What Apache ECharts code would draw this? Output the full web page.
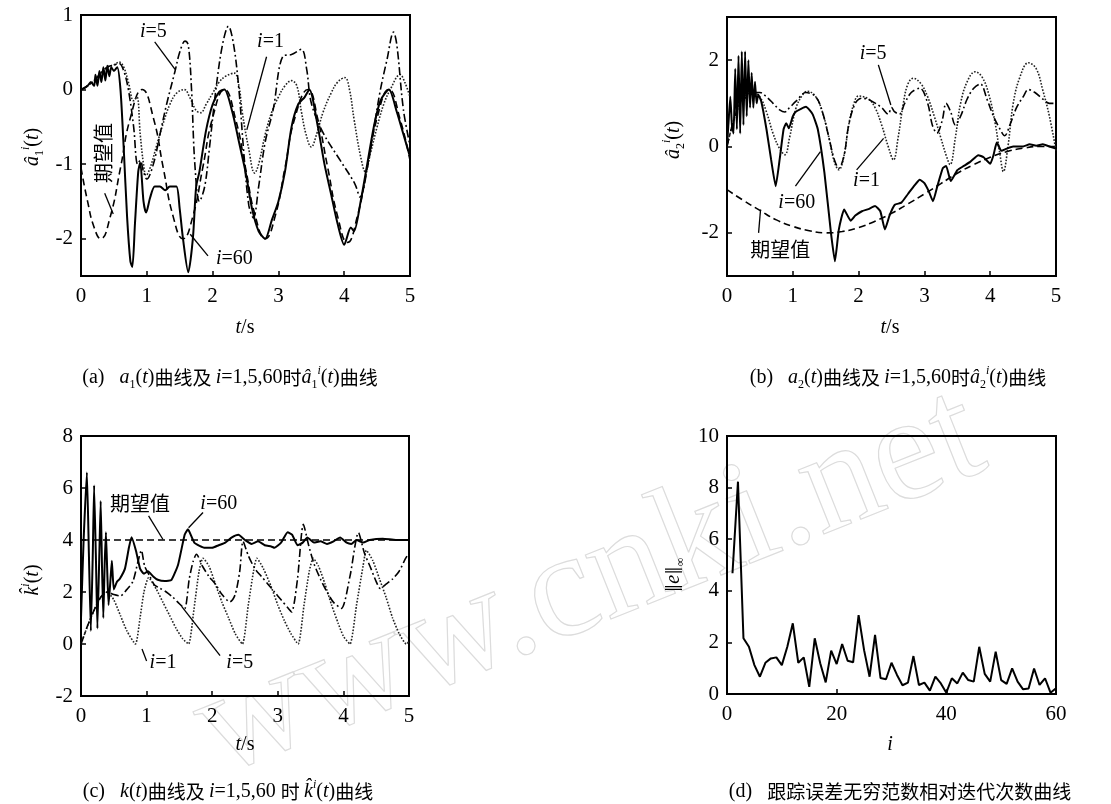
<!DOCTYPE html>
<html><head><meta charset="utf-8">
<script src="https://cdn.jsdelivr.net/npm/echarts@6/dist/echarts.min.js"></script>
<style>html,body{margin:0;padding:0;background:#fff}#c{width:1111px;height:804px}</style>
</head><body><div id="c"></div>
<script>
// ---------- panel (a): a1(t) ----------
const a1Desired = [[0,-1.05],[0.1,-1.5],[0.2,-1.85],[0.3,-2.0],[0.44,-1.72],[0.6,-1.05],[0.75,-0.38],[0.93,0],[1.1,-0.38],[1.25,-1.05],[1.4,-1.7],[1.55,-2.0],[1.7,-1.7],[1.85,-1.05],[2.0,-0.38],[2.18,0],[2.35,-0.4],[2.5,-1.05],[2.65,-1.7],[2.8,-2.0],[2.95,-1.7],[3.1,-1.05],[3.25,-0.38],[3.45,0],[3.6,-0.4],[3.75,-1.05],[3.9,-1.7],[4.05,-2.05],[4.2,-1.7],[4.35,-1.05],[4.5,-0.38],[4.68,0],[4.85,-0.4],[5.0,-0.95]];
const a1It60 = [[0,0],[0.05,0.02],[0.1,0.05],[0.15,0.1],[0.2,0.05],[0.22,0.2],[0.25,0.05],[0.28,0.25],[0.31,0.1],[0.34,0.3],[0.37,0.12],[0.4,0.32],[0.43,0.18],[0.46,0.3],[0.5,0.25],[0.55,0.3],[0.6,0.0],[0.65,-0.8],[0.7,-1.7],[0.75,-2.3],[0.78,-2.38],[0.82,-1.8],[0.87,-1.1],[0.9,-0.98],[0.95,-1.5],[0.99,-1.65],[1.05,-1.45],[1.12,-1.3],[1.2,-1.3],[1.28,-1.35],[1.35,-1.3],[1.45,-1.3],[1.5,-1.6],[1.55,-2.0],[1.63,-2.45],[1.7,-2.0],[1.75,-1.3],[1.8,-1.1],[1.9,-0.55],[2.0,-0.2],[2.1,-0.03],[2.18,0],[2.3,-0.3],[2.4,-0.7],[2.5,-1.1],[2.6,-1.6],[2.7,-1.9],[2.8,-2.0],[2.9,-1.75],[3.0,-1.5],[3.1,-1.1],[3.2,-0.5],[3.3,-0.2],[3.4,-0.1],[3.47,0],[3.6,-0.5],[3.7,-1.0],[3.8,-1.4],[3.9,-1.8],[4.0,-2.08],[4.1,-1.85],[4.15,-1.9],[4.25,-1.5],[4.35,-1.0],[4.45,-0.5],[4.55,-0.15],[4.68,0],[4.8,-0.3],[4.9,-0.6],[5.0,-0.9]];
const a1It1 = [[0,0],[0.1,0.05],[0.2,0.12],[0.3,0.22],[0.4,0.3],[0.5,0.33],[0.58,0.37],[0.65,0.3],[0.72,0.1],[0.8,-0.15],[0.85,-0.1],[0.9,-0.6],[0.95,-1.0],[0.99,-1.15],[1.05,-1.05],[1.15,-0.75],[1.25,-0.45],[1.35,-0.2],[1.45,-0.05],[1.57,0],[1.65,-0.1],[1.75,-0.28],[1.82,-0.31],[1.9,-0.2],[2.0,-0.05],[2.1,0.1],[2.2,0.18],[2.33,0.22],[2.4,0.05],[2.45,-0.3],[2.55,-0.8],[2.64,-1.12],[2.7,-1.0],[2.8,-0.6],[2.9,-0.3],[3.0,-0.1],[3.1,0.05],[3.2,0.12],[3.28,0.05],[3.35,-0.3],[3.42,-0.6],[3.5,-0.77],[3.58,-0.6],[3.68,-0.3],[3.8,-0.05],[3.9,0.1],[4.01,0.16],[4.08,0.0],[4.15,-0.4],[4.25,-0.9],[4.32,-1.1],[4.4,-0.85],[4.5,-0.5],[4.6,-0.2],[4.7,0.0],[4.85,0.2],[4.92,0.1],[5.0,-0.1]];
const a1It5 = [[0,0],[0.1,0.05],[0.2,0.12],[0.3,0.22],[0.4,0.3],[0.5,0.33],[0.58,0.35],[0.65,0.25],[0.72,0.0],[0.8,-0.5],[0.86,-1.0],[0.9,-0.95],[0.95,-1.1],[1.0,-1.2],[1.1,-1.0],[1.2,-0.6],[1.3,-0.2],[1.43,0.25],[1.5,0.5],[1.58,0.65],[1.63,0.6],[1.68,0.0],[1.73,-1.0],[1.8,-1.5],[1.88,-1.3],[1.95,-0.8],[2.05,0.0],[2.15,0.6],[2.24,0.85],[2.32,0.6],[2.4,0.0],[2.47,-0.8],[2.55,-1.55],[2.62,-1.72],[2.7,-1.3],[2.8,-0.7],[2.92,-0.27],[3.07,0.45],[3.2,0.47],[3.35,0.54],[3.43,0.27],[3.5,-0.18],[3.68,-0.58],[3.94,-0.95],[4.16,-1.26],[4.24,-1.44],[4.37,-0.95],[4.54,-0.05],[4.65,0.4],[4.75,0.77],[4.8,0.6],[4.9,-0.27],[5.0,-0.75]];

// ---------- panel (b): a2(t) ----------
const a2Desired = [[0,-1.0],[0.25,-1.25],[0.5,-1.48],[0.75,-1.7],[1.0,-1.85],[1.25,-1.95],[1.5,-2.0],[1.75,-1.97],[2.0,-1.88],[2.25,-1.73],[2.5,-1.55],[2.75,-1.33],[3.0,-1.1],[3.25,-0.86],[3.5,-0.62],[3.75,-0.42],[4.0,-0.25],[4.25,-0.12],[4.5,-0.04],[4.75,0.0],[5.0,0.0]];
const a2It60 = [[0,0],[0.025,0.6],[0.05,1.15],[0.075,0.5],[0.1,0.3],[0.125,1.8],[0.15,0.4],[0.175,2.1],[0.2,0.3],[0.225,2.2],[0.25,0.5],[0.275,2.2],[0.3,0.7],[0.325,2.0],[0.35,0.9],[0.375,1.7],[0.4,0.9],[0.425,1.5],[0.45,1.0],[0.475,1.2],[0.52,1.05],[0.6,0.4],[0.67,-0.3],[0.74,-0.92],[0.8,-0.3],[0.86,0.4],[0.9,0.54],[0.94,0.42],[1.0,0.7],[1.05,0.81],[1.2,0.92],[1.3,0.75],[1.38,0.4],[1.48,-0.6],[1.58,-2.0],[1.64,-2.66],[1.7,-1.92],[1.78,-1.46],[1.88,-1.72],[1.95,-1.6],[2.05,-1.5],[2.15,-1.45],[2.25,-1.38],[2.33,-1.5],[2.4,-1.92],[2.47,-1.6],[2.55,-1.35],[2.65,-1.3],[2.75,-1.1],[2.85,-0.9],[2.93,-0.77],[3.0,-0.85],[3.07,-1.05],[3.13,-1.27],[3.2,-0.9],[3.28,-0.5],[3.33,-0.45],[3.4,-0.8],[3.5,-0.55],[3.6,-0.45],[3.7,-0.35],[3.82,-0.2],[3.9,-0.25],[4.0,-0.4],[4.05,-0.2],[4.1,0.09],[4.17,-0.1],[4.25,-0.05],[4.35,0.0],[4.5,0.0],[4.6,0.05],[4.7,0.02],[4.8,0.05],[4.9,0.0],[5.0,-0.05]];
const a2It1 = [[0,0],[0.1,0.6],[0.2,1.0],[0.3,1.2],[0.4,1.25],[0.5,1.15],[0.6,0.8],[0.7,0.3],[0.8,-0.05],[0.88,-0.19],[0.95,0.2],[1.05,0.9],[1.15,1.2],[1.22,1.28],[1.35,1.15],[1.45,0.8],[1.55,0.2],[1.63,-0.35],[1.7,-0.54],[1.78,-0.2],[1.85,0.5],[1.93,1.0],[2.0,1.17],[2.15,1.1],[2.25,0.9],[2.35,0.5],[2.45,0.0],[2.53,-0.31],[2.6,0.2],[2.68,1.0],[2.75,1.45],[2.83,1.58],[2.95,1.45],[3.05,1.15],[3.15,0.7],[3.25,0.2],[3.33,-0.2],[3.39,-0.42],[3.47,0.2],[3.55,1.0],[3.65,1.5],[3.77,1.73],[3.88,1.6],[3.98,1.2],[4.08,0.5],[4.15,-0.2],[4.2,-0.58],[4.27,0.0],[4.35,1.0],[4.45,1.6],[4.58,1.94],[4.7,1.8],[4.8,1.3],[4.9,0.7],[5.0,-0.1]];
const a2It5 = [[0,0],[0.1,0.6],[0.2,1.0],[0.3,1.15],[0.4,1.25],[0.5,1.25],[0.6,1.15],[0.7,1.0],[0.8,0.85],[0.88,0.8],[0.95,0.9],[1.05,1.05],[1.2,1.25],[1.35,1.15],[1.45,0.8],[1.55,0.2],[1.63,-0.3],[1.7,-0.5],[1.78,-0.2],[1.85,0.5],[1.95,1.0],[2.05,1.12],[2.2,1.05],[2.35,0.9],[2.45,0.75],[2.5,0.9],[2.55,0.8],[2.62,0.75],[2.7,1.0],[2.8,1.25],[2.93,1.35],[3.05,1.0],[3.12,0.5],[3.19,0.31],[3.27,0.6],[3.33,1.0],[3.4,0.8],[3.47,0.5],[3.55,0.7],[3.65,1.1],[3.75,1.35],[3.85,1.45],[3.95,1.1],[4.05,0.7],[4.15,0.4],[4.22,0.25],[4.3,0.5],[4.4,0.9],[4.5,1.15],[4.58,1.32],[4.68,1.25],[4.8,1.1],[4.9,1.0],[5.0,1.0]];

// ---------- panel (c): k(t) ----------
const kDesired = [[0,4],[5,4]];
const kIt60 = [[0,1.0],[0.04,4.0],[0.09,6.6],[0.12,3.5],[0.15,0.5],[0.18,3.5],[0.2,6.1],[0.23,3.0],[0.25,0.6],[0.28,3.5],[0.3,5.5],[0.32,3.0],[0.34,1.0],[0.36,3.0],[0.38,4.3],[0.4,2.8],[0.42,1.5],[0.45,2.5],[0.47,3.2],[0.5,2.1],[0.55,2.4],[0.59,2.5],[0.67,2.9],[0.73,3.7],[0.77,4.11],[0.84,3.57],[0.9,2.9],[0.96,2.7],[1.02,2.8],[1.1,2.6],[1.17,2.47],[1.28,2.42],[1.38,2.47],[1.48,3.05],[1.58,4.2],[1.63,4.41],[1.73,3.89],[1.89,3.7],[2.0,3.7],[2.1,3.8],[2.2,3.9],[2.3,4.1],[2.4,4.2],[2.5,4.0],[2.6,3.85],[2.7,3.95],[2.8,3.8],[2.9,3.75],[2.95,3.7],[3.05,3.9],[3.15,4.3],[3.22,4.2],[3.3,3.8],[3.38,3.9],[3.45,4.1],[3.55,3.9],[3.65,3.95],[3.75,3.85],[3.85,3.95],[3.95,4.1],[4.05,3.9],[4.12,3.85],[4.2,4.0],[4.3,3.9],[4.4,4.0],[4.6,4.05],[4.8,4.0],[5.0,4.0]];
const kIt1 = [[0,0],[0.1,0.7],[0.2,1.3],[0.3,1.8],[0.4,2.0],[0.5,1.7],[0.6,1.1],[0.7,0.5],[0.83,0.0],[0.9,1.0],[0.96,2.0],[1.03,2.55],[1.15,2.1],[1.25,1.6],[1.35,1.1],[1.45,0.6],[1.55,0.2],[1.64,0.0],[1.72,1.3],[1.8,2.8],[1.86,3.3],[1.95,3.0],[2.05,2.3],[2.15,1.6],[2.25,1.0],[2.35,0.4],[2.46,0.0],[2.55,1.5],[2.63,2.8],[2.68,3.3],[2.78,2.9],[2.9,2.2],[3.0,1.5],[3.1,0.9],[3.2,0.4],[3.31,0.0],[3.4,1.5],[3.48,2.8],[3.54,3.3],[3.62,3.0],[3.72,2.3],[3.82,1.5],[3.92,0.8],[4.0,0.3],[4.1,0.0],[4.2,1.5],[4.3,3.0],[4.35,3.6],[4.45,3.2],[4.55,2.5],[4.65,1.8],[4.75,1.0],[4.85,0.4],[4.96,0.0],[5.0,0.1]];
const kIt5 = [[0,0],[0.1,0.7],[0.2,1.3],[0.3,1.8],[0.4,2.0],[0.5,1.9],[0.6,1.85],[0.7,2.1],[0.79,2.4],[0.87,3.18],[0.92,3.6],[0.97,3.0],[1.05,2.6],[1.12,2.27],[1.2,2.15],[1.3,2.0],[1.4,1.8],[1.5,1.55],[1.58,1.36],[1.65,2.5],[1.71,3.18],[1.76,3.45],[1.85,3.0],[1.95,2.6],[2.05,2.3],[2.15,1.9],[2.27,1.62],[2.35,1.9],[2.42,2.8],[2.47,3.95],[2.55,3.4],[2.65,2.9],[2.75,2.6],[2.85,2.3],[2.95,2.0],[3.05,1.7],[3.15,1.4],[3.21,1.23],[3.3,2.5],[3.39,4.6],[3.47,3.8],[3.55,3.1],[3.65,2.5],[3.75,2.0],[3.85,1.6],[3.97,1.37],[4.1,2.6],[4.23,4.28],[4.32,3.5],[4.42,2.9],[4.5,2.4],[4.56,2.14],[4.65,2.3],[4.75,2.5],[4.85,2.8],[4.95,3.3],[5.0,3.5]];

// ---------- panel (d): ||e||inf vs iteration ----------
const iterIdx = [1,2,3,4,5,6,7,8,9,10,11,12,13,14,15,16,17,18,19,20,21,22,23,24,25,26,27,28,29,30,31,32,33,34,35,36,37,38,39,40,41,42,43,44,45,46,47,48,49,50,51,52,53,54,55,56,57,58,59,60];
const errNorm = [4.68,8.23,2.16,1.83,1.12,0.67,1.21,1.38,1.42,1.12,1.83,2.74,1.21,1.42,0.28,2.16,1.19,0.45,1.68,1.16,1.94,1.29,1.23,3.06,1.7,0.67,2.29,0.62,0.57,1.21,0.74,0.34,0.44,1.47,0.35,0.44,0.13,0.67,0.41,0.05,0.61,0.41,0.83,0.54,0.48,1.83,0.78,0.48,1.64,0.54,0.39,0.99,0.48,0.18,0.21,0.99,0.35,0.61,0.05,0.22];

// tick label values
const aTicks = [-2,-1,0,1];
const bTicks = [-2,0,2];
const iTicksMax = 60;

const SERIF = 'Liberation Serif';
const CJK = 'Noto Sans CJK SC';
const rich = {
  n:{fontFamily:SERIF,fontSize:20,color:'#000',lineHeight:26},
  it:{fontFamily:SERIF,fontStyle:'italic',fontSize:20,color:'#000',lineHeight:26},
  bar:{fontFamily:'DejaVu Serif',fontSize:17,color:'#000',lineHeight:26},
  cn:{fontFamily:CJK,fontSize:19,color:'#000',lineHeight:26},
  sb:{fontFamily:SERIF,fontSize:12,color:'#000',verticalAlign:'bottom',lineHeight:14},
  sp:{fontFamily:SERIF,fontStyle:'italic',fontSize:12,color:'#000',verticalAlign:'top',lineHeight:14},
  cnb:{fontFamily:CJK,fontSize:20,color:'#000',lineHeight:26}
};

const chart = echarts.init(document.getElementById('c'), null, {renderer:'canvas'});

const grids = [
  {left:81, top:15, width:329, height:261},
  {left:727, top:17, width:329, height:259},
  {left:81, top:436, width:328, height:260},
  {left:727, top:436, width:329, height:258}
];

function xAx(gi, max, interval){
  return {gridIndex:gi, type:'value', min:0, max:max, interval:interval,
    axisLine:{show:true,onZero:false,lineStyle:{color:'#000',width:2}},
    axisTick:{show:true,inside:true,length:5,lineStyle:{color:'#000',width:1.5}},
    axisLabel:{color:'#000',fontFamily:SERIF,fontSize:21,margin:10},
    splitLine:{show:false}};
}
function yAx(gi, min, max, interval, custom){
  const o = {gridIndex:gi, type:'value', min:min, max:max, interval:interval,
    axisLine:{show:true,onZero:false,lineStyle:{color:'#000',width:2}},
    axisTick:{show:true,inside:true,length:5,lineStyle:{color:'#000',width:1.5}},
    axisLabel:{color:'#000',fontFamily:SERIF,fontSize:21,margin:8},
    splitLine:{show:false}};
  if (custom){ o.axisLabel.customValues = custom; o.axisTick.customValues = custom; }
  return o;
}

const SOLID = {color:'#000',width:2,type:'solid'};
const DASH = {color:'#000',width:1.6,type:[7,4]};
const DOT = {color:'#222',width:1.6,type:[1.6,1.6]};
const DASHDOT = {color:'#000',width:1.6,type:[8,3,1.8,3]};

function ser(gi, data, ls, smooth){
  return {type:'line', xAxisIndex:gi, yAxisIndex:gi, data:data, showSymbol:false, symbol:'none',
    smooth:smooth, lineStyle:ls, animation:false, clip:true, z:ls===SOLID?3:2};
}

chart.setOption({
  animation:false,
  backgroundColor:'#fff',
  grid: grids.map(g=>Object.assign({show:true,borderColor:'#000',borderWidth:2,backgroundColor:'transparent'},g)),
  xAxis:[xAx(0,5,1),xAx(1,5,1),xAx(2,5,1),xAx(3,iTicksMax,20)],
  yAxis:[yAx(0,-2.5,1,1,aTicks),yAx(1,-3,3,1,bTicks),yAx(2,-2,8,2),yAx(3,0,10,2)],
  series:[
    ser(0,a1Desired,DASH,0.5), ser(0,a1It1,DOT,0.4), ser(0,a1It5,DASHDOT,0.35), ser(0,a1It60,SOLID,0.25),
    ser(1,a2Desired,DASH,0.5), ser(1,a2It1,DOT,0.4), ser(1,a2It5,DASHDOT,0.35), ser(1,a2It60,SOLID,0.15),
    ser(2,kDesired,DASH,false), ser(2,kIt1,DOT,0.2), ser(2,kIt5,DASHDOT,0.25), ser(2,kIt60,SOLID,0.15),
    ser(3,iterIdx.map((v,k)=>[v,errNorm[k]]),SOLID,false)
  ]
});

// annotations in data coordinates
const notes = [
  {g:0, text:'{it|i}{n|=5}', at:[1.1,0.78], line:[[1.12,0.64],[1.43,0.27]]},
  {g:0, text:'{it|i}{n|=1}', at:[2.88,0.64], line:[[2.82,0.44],[2.52,-0.54]]},
  {g:0, text:'{cnb|期望值}', at:[0.34,-0.85], rot:Math.PI/2, line:[[0.36,-1.39],[0.49,-1.67]]},
  {g:0, text:'{it|i}{n|=60}', at:[2.33,-2.27], line:[[1.93,-2.23],[1.66,-1.94]]},
  {g:1, text:'{it|i}{n|=5}', at:[2.22,2.16], line:[[2.3,1.89],[2.49,0.96]]},
  {g:1, text:'{it|i}{n|=1}', at:[2.12,-0.8], line:[[1.97,-0.54],[2.38,0.19]]},
  {g:1, text:'{it|i}{n|=60}', at:[1.06,-1.31], line:[[1.04,-0.92],[1.42,-0.12]]},
  {g:1, text:'{cnb|期望值}', at:[0.81,-2.39], line:[[0.48,-2.0],[0.51,-1.46]]},
  {g:2, text:'{cnb|期望值}', at:[0.9,5.39], line:[[1.03,4.93],[1.25,4.02]]},
  {g:2, text:'{it|i}{n|=60}', at:[2.1,5.39], line:[[1.86,5.06],[1.64,4.47]]},
  {g:2, text:'{it|i}{n|=1}', at:[1.25,-0.71], line:[[1.0,-0.65],[0.93,-0.19]]},
  {g:2, text:'{it|i}{n|=5}', at:[2.42,-0.71], line:[[2.12,-0.45],[1.54,1.43]]}
];

// axis names and captions (layout positions)
const labels = [
  {x:33, y:147, rot:Math.PI/2, text:'{it|â}{sb|1}{sp|i}{n|(}{it|t}{n|)}'},
  {x:674, y:140, rot:Math.PI/2, text:'{it|â}{sb|2}{sp|i}{n|(}{it|t}{n|)}'},
  {x:33, y:580, rot:Math.PI/2, text:'{it|k̂}{sp|i}{n|(}{it|t}{n|)}'},
  {x:674, y:575, rot:Math.PI/2, text:'{bar|‖}{it|e}{bar|‖}{sb|∞}'},
  {x:245, y:328, text:'{it|t}{n|/s}'},
  {x:890, y:328, text:'{it|t}{n|/s}'},
  {x:245, y:745, text:'{it|t}{n|/s}'},
  {x:890, y:745, text:'{it|i}'},
  {x:230, y:378, text:'{n|(a)   }{it|a}{sb|1}{n|(}{it|t}{n|)}{cn|曲线及 }{it|i}{n|=1,5,60}{cn|时}{it|â}{sb|1}{sp|i}{n|(}{it|t}{n|)}{cn|曲线}'},
  {x:898, y:378, text:'{n|(b)   }{it|a}{sb|2}{n|(}{it|t}{n|)}{cn|曲线及 }{it|i}{n|=1,5,60}{cn|时}{it|â}{sb|2}{sp|i}{n|(}{it|t}{n|)}{cn|曲线}'},
  {x:228, y:792, text:'{n|(c)   }{it|k}{n|(}{it|t}{n|)}{cn|曲线及 }{it|i}{n|=1,5,60 }{cn|时 }{it|k̂}{sp|i}{n|(}{it|t}{n|)}{cn|曲线}'},
  {x:900, y:792, text:'{n|(d)   }{cn|跟踪误差无穷范数相对迭代次数曲线}'}
];

function drawOverlay(){
  const g = [];
  g.push({type:'text', x:590, y:585, rotation:0.38, silent:true, z:-1,
    style:{text:'www.cnki.net', fontFamily:SERIF, fontSize:150, fill:'rgba(0,0,0,0)', stroke:'#dcdcdc', lineWidth:1.2, align:'center', verticalAlign:'middle'}});
  notes.forEach(a=>{
    const p = chart.convertToPixel({gridIndex:a.g}, a.at);
    g.push({type:'text', x:p[0], y:p[1], rotation:a.rot||0, z:10,
      style:{text:a.text, rich:rich, align:'center', verticalAlign:'middle'}});
    const p1 = chart.convertToPixel({gridIndex:a.g}, a.line[0]);
    const p2 = chart.convertToPixel({gridIndex:a.g}, a.line[1]);
    g.push({type:'line', z:10, shape:{x1:p1[0],y1:p1[1],x2:p2[0],y2:p2[1]}, style:{stroke:'#000',lineWidth:1.3}});
  });
  labels.forEach(l=>{
    g.push({type:'text', x:l.x, y:l.y, rotation:l.rot||0, z:10,
      style:{text:l.text, rich:rich, align:'center', verticalAlign:'middle'}});
  });
  chart.setOption({graphic:g});
}
drawOverlay();
</script></body></html>
